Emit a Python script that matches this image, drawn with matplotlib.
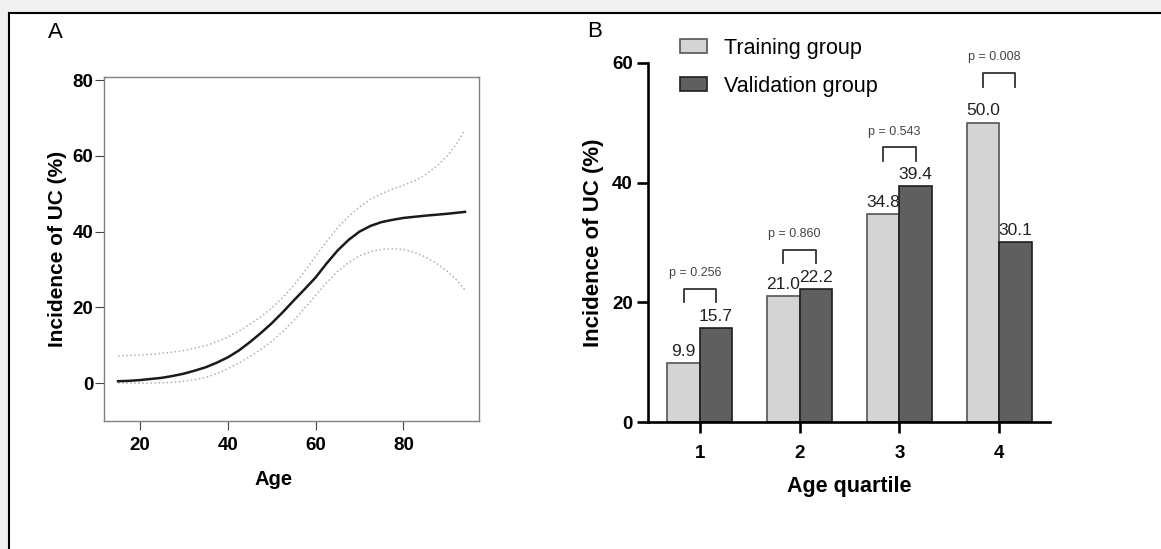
import matplotlib
matplotlib.use("Agg")
import matplotlib.pyplot as plt
from matplotlib.patches import Rectangle
from matplotlib.lines import Line2D

plt.rcParams['font.family'] = ['Liberation Sans', 'DejaVu Sans']

# panel A: fitted curve with confidence band
ages = [15, 17.5, 20, 22.5, 25, 27.5, 30, 32.5, 35, 37.5, 40, 42.5, 45, 47.5, 50, 52.5,
        55, 57.5, 60, 62.5, 65, 67.5, 70, 72.5, 75, 77.5, 80, 82.5, 85, 87.5, 90, 92, 94]
fit = [0.5, 0.6, 0.8, 1.1, 1.4, 1.9, 2.5, 3.3, 4.2, 5.4, 6.8, 8.6, 10.8, 13.2, 15.8, 18.7,
       21.8, 24.8, 27.9, 31.6, 35.0, 37.8, 40.0, 41.5, 42.5, 43.1, 43.6, 43.9, 44.2, 44.45,
       44.7, 44.95, 45.2]
upper = [7.2, 7.3, 7.4, 7.6, 7.9, 8.2, 8.6, 9.2, 9.9, 10.9, 12.2, 13.7, 15.5, 17.5, 19.8,
         22.6, 25.8, 29.5, 33.5, 37.4, 41.0, 44.0, 46.5, 48.5, 50.0, 51.2, 52.2, 53.4, 55.0,
         57.2, 60.0, 63.0, 66.8]
lower = [0.0, 0.0, 0.0, 0.0, 0.1, 0.2, 0.5, 0.9, 1.5, 2.5, 3.8, 5.3, 7.0, 8.9, 11.0, 13.6,
         16.5, 19.8, 23.2, 26.5, 29.5, 31.8, 33.6, 34.7, 35.3, 35.5, 35.3, 34.5, 33.3, 31.6,
         29.5, 27.3, 24.6]

# panel B: incidence by age quartile
quartiles = [1, 2, 3, 4]
training = [9.9, 21.0, 34.8, 50.0]
validation = [15.7, 22.2, 39.4, 30.1]
p_labels = ["p = 0.256", "p = 0.860", "p = 0.543", "p = 0.008"]
bracket_top = [22.3, 28.8, 45.9, 58.3]

W, H = 1161, 549
fig = plt.figure(figsize=(W / 100, H / 100), dpi=100)
fig.patch.set_facecolor('#f0f0f0')
fig.add_artist(Rectangle((9 / W, 0), 1, 1 - 13 / H, transform=fig.transFigure,
                         facecolor='white', edgecolor='none', zorder=-10))
fig.add_artist(Line2D([9 / W, 9 / W], [0, 1 - 13 / H], color='black', lw=1.5))
fig.add_artist(Line2D([9 / W, 1], [1 - 13 / H, 1 - 13 / H], color='black', lw=1.5))


def box(l, t, r, b):
    return [l / W, 1 - b / H, (r - l) / W, (b - t) / H]


# ---- panel A
axA = fig.add_axes(box(104, 77, 479, 421))
axA.plot(ages, upper, color='#b0b0b0', lw=1.1, ls=':')
axA.plot(ages, lower, color='#b0b0b0', lw=1.1, ls=':')
axA.plot(ages, fit, color='#1a1a1a', lw=1.8)
axA.set_xlim(11.8, 97.2)
axA.set_ylim(-10, 80.8)
axA.set_xticks([20, 40, 60, 80])
axA.set_yticks([0, 20, 40, 60, 80])
for s in axA.spines.values():
    s.set_color('#808080')
    s.set_linewidth(1.0)
axA.tick_params(length=6.5, width=0.8, color='#444444', labelsize=13.5)
axA.tick_params(axis='x', pad=5)
axA.tick_params(axis='y', pad=1)
for lab in axA.get_xticklabels() + axA.get_yticklabels():
    lab.set_fontweight('bold')
axA.set_xlabel('Age', fontsize=14.5, fontweight='bold', va='center')
axA.xaxis.set_label_coords(0.4515, -0.1715)
axA.set_ylabel('Incidence of UC (%)', fontsize=15, fontweight='bold', va='center')
axA.yaxis.set_label_coords(-0.125, 0.5)
fig.text(55 / W, 1 - 32 / H, 'A', fontsize=16, ha='center', va='center')

# ---- panel B
axB = fig.add_axes(box(648, 62.7, 1050, 422.3))
w = 0.325
xt = [q - w / 2 for q in quartiles]
xv = [q + w / 2 for q in quartiles]
bt = axB.bar(xt, training, w, color='#d4d4d4', edgecolor='#555555', lw=1.2,
             label='Training group')
bv = axB.bar(xv, validation, w, color='#5f5f5f', edgecolor='#1e1e1e', lw=1.2,
             label='Validation group')
for x, v in zip(xt + xv, training + validation):
    axB.annotate('%.1f' % v, (x, v), xytext=(0, 3), textcoords='offset points',
                 ha='center', va='bottom', fontsize=12.5, color='#222222',
                 annotation_clip=False)
for q, top, p in zip(quartiles, bracket_top, p_labels):
    axB.plot([q - w / 2, q - w / 2, q + w / 2, q + w / 2],
             [top - 2.3, top, top, top - 2.3], color='#333333', lw=1.3,
             clip_on=False)
    axB.text(q - 0.05, top + 2.6, p, ha='center', va='center', fontsize=9,
             color='#444444', clip_on=False)
axB.set_xlim(0.48, 4.51)
axB.set_ylim(0, 60)
axB.set_xticks(quartiles)
axB.set_yticks([0, 20, 40, 60])
axB.spines['top'].set_visible(False)
axB.spines['right'].set_visible(False)
axB.spines['left'].set_linewidth(1.9)
axB.spines['bottom'].set_linewidth(1.9)
axB.tick_params(length=8, width=1.9, labelsize=13.5)
axB.tick_params(axis='x', pad=8)
axB.tick_params(axis='y', pad=3)
for lab in axB.get_xticklabels() + axB.get_yticklabels():
    lab.set_fontweight('bold')
axB.set_xlabel('Age quartile', fontsize=15.5, fontweight='bold', va='center')
axB.xaxis.set_label_coords(0.5, -0.179)
axB.set_ylabel('Incidence of UC (%)', fontsize=16, fontweight='bold', va='center')
axB.yaxis.set_label_coords(-0.136, 0.5)
axB.legend(loc='upper left', bbox_to_anchor=(0.0796, 1.07), frameon=False,
           fontsize=15.5, handlelength=1.26, handleheight=0.65,
           handletextpad=0.8, labelspacing=0.8, borderpad=0, borderaxespad=0)
fig.text(595 / W, 1 - 31.7 / H, 'B', fontsize=16, ha='center', va='center')

fig.savefig('out.png', dpi=100)
